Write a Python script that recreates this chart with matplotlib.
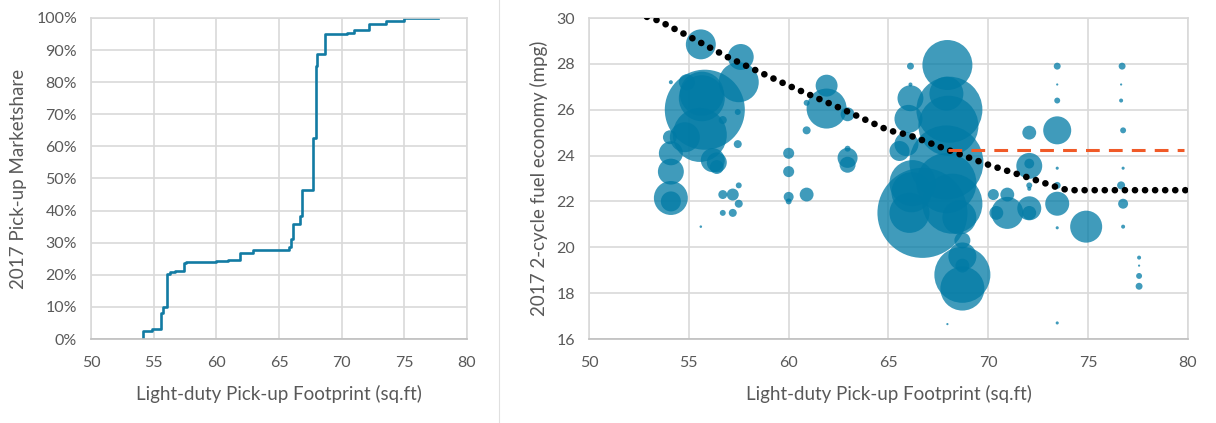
import matplotlib
matplotlib.use("Agg")
import matplotlib.pyplot as plt
from matplotlib.lines import Line2D
import numpy as np

plt.rcParams['font.family'] = ['Lato', 'DejaVu Sans']

# left panel: cumulative pick-up marketshare by footprint
share_x = [54.15, 54.15, 54.85, 55.58, 55.76, 56.08, 56.3, 56.67, 57.4, 57.54,
           59.97, 60.9, 61.88, 62.94, 65.8, 65.95, 66.12, 66.7, 66.8, 67.7,
           67.95, 68.03, 68.7, 70.4, 71.0, 72.15, 73.5, 75.0, 77.66]
share_y = [0, 2.5, 3.1, 8.1, 9.9, 20.2, 20.8, 21.2, 23.6, 24.1,
           24.3, 24.6, 26.7, 27.7, 28.8, 31.0, 35.8, 38.2, 46.5, 62.6,
           84.9, 88.9, 95.0, 95.4, 96.3, 98.0, 99.2, 100, 100]

# right panel: footprint vs 2-cycle fuel economy, bubble = sales (k units)
fp = [54.1, 54.1, 54.1, 54.1, 54.05, 54.1,
      55.8, 55.6, 55.65, 55.55, 54.8, 56.4, 56.4, 54.9, 56.7, 57.45, 57.45,
      57.6, 57.5, 55.65, 56.2,
      56.7, 57.2, 57.5, 57.5, 56.7, 57.2, 55.6,
      60.0, 60.0, 60.0, 60.0, 60.9, 60.9, 61.9, 61.9, 60.9, 62.95, 62.95,
      62.95, 62.95,
      66.1, 66.1, 66.1, 66.0, 67.95, 68.05, 67.9, 65.9, 67.9, 66.7, 66.2,
      66.05, 67.9, 68.2, 68.55, 68.7, 68.7, 68.7, 68.7, 68.7, 67.95, 66.15,
      65.55, 68.0,
      73.45, 73.45, 73.45, 73.45, 72.05, 72.05, 72.05, 72.05, 72.05, 72.05,
      72.05, 70.95, 70.95, 70.25, 70.4, 73.45, 73.45, 73.45, 73.45, 73.45,
      74.9, 76.7, 76.65, 76.65, 76.75, 76.75, 76.65, 76.75, 76.75, 77.55,
      77.55, 77.55, 77.55]
mpg = [22.15, 22.0, 23.3, 24.1, 24.8, 27.2,
       26.0, 28.85, 26.5, 24.9, 24.8, 23.7, 23.5, 27.2, 25.55, 25.9, 24.5,
       28.3, 27.2, 26.7, 23.8,
       22.3, 22.3, 22.7, 21.9, 21.5, 21.5, 20.9,
       24.1, 23.3, 22.2, 22.0, 22.3, 25.1, 26.05, 27.05, 26.3, 25.8, 23.9,
       23.6, 24.3,
       27.9, 27.1, 26.5, 25.6, 27.95, 26.0, 26.7, 24.5, 23.7, 21.5, 22.8,
       21.5, 22.8, 21.9, 21.3, 20.3, 19.6, 19.2, 18.8, 18.2, 16.65, 22.4,
       24.2, 25.3,
       27.9, 27.1, 26.4, 25.1, 25.0, 23.55, 23.65, 22.7, 22.55, 21.7,
       21.5, 21.5, 22.3, 22.3, 21.5, 23.45, 22.7, 21.9, 20.85, 16.7,
       20.9, 27.9, 27.1, 26.4, 25.1, 23.45, 22.7, 21.9, 20.9, 19.55,
       19.2, 18.75, 18.3]
sales = [72, 25, 42, 36, 12, 1,
         400, 56, 132, 182, 56, 25, 12, 16, 4, 2.2, 4,
         42, 100, 121, 36,
         5, 9, 2.2, 4, 2.2, 4, 0.4,
         7.6, 7.6, 6.2, 2.2, 12, 4, 100, 30, 2.2, 12, 25,
         16, 2.2,
         3, 1, 42, 49, 156, 272, 72, 36, 342, 506, 132,
         100, 225, 225, 72, 16, 49, 12, 196, 121, 0.3, 100,
         25, 225,
         3, 0.3, 2.2, 49, 12, 42, 6, 2.2, 1, 36,
         12, 64, 12, 7.6, 12, 0.6, 3, 36, 0.6, 0.6,
         64, 3, 0.3, 1, 2.2, 0.6, 4, 6.2, 1, 1,
         0.3, 2.2, 3]

# CAFE-style target curve and fleet average
target_x = [52.9, 53.5, 55.0, 57.0, 60.0, 62.5, 65.0, 66.0, 68.0, 70.0, 72.0, 73.5, 74.0, 80.0]
target_y = [30.05, 29.88, 29.2, 28.27, 27.05, 26.1, 25.1, 24.9, 24.24, 23.6, 23.04, 22.6, 22.49, 22.49]
avg_x = [68.0, 79.8]
avg_y = [24.25, 24.25]

grey = '#595959'
grid_c = '#d9d9d9'
blue = '#007AA5'

fig = plt.figure(figsize=(12.16, 4.23), dpi=100)
ax1 = fig.add_axes([91 / 1216, 1 - 339 / 423, 376 / 1216, 321 / 423])
ax2 = fig.add_axes([589 / 1216, 1 - 339 / 423, 599 / 1216, 321 / 423])

for ax in (ax1, ax2):
    ax.grid(True, color=grid_c, linewidth=1.2)
    ax.set_axisbelow(True)
    for s in ax.spines.values():
        s.set_color(grid_c)
        s.set_linewidth(1.2)
    ax.spines['bottom'].set_color('#bfbfbf')
    ax.tick_params(length=0, pad=10, labelsize=11.5, labelcolor=grey)
    ax.tick_params(axis='x', pad=12)
    ax.set_xlim(50, 80)
    ax.set_xticks(np.arange(50, 81, 5))
    ax.set_xlabel("Light-duty Pick-up Footprint (sq.ft)", fontsize=13.5, color=grey, labelpad=11)

# left chart
ax1.step(share_x, share_y, where='post', color='#127BA3', linewidth=1.9)
ax1.set_ylim(0, 100)
ax1.set_yticks(np.arange(0, 101, 10))
ax1.set_yticklabels([f"{v}%" for v in range(0, 101, 10)])
ax1.set_ylabel("2017 Pick-up Marketshare", fontsize=13.5, color=grey, labelpad=7)

# right chart
ax2.scatter(fp, mpg, s=np.array(sales) * 8.3, color=blue, alpha=0.75,
            edgecolors='none', zorder=2)
ax2.plot(target_x, target_y, color='black', linewidth=4.8,
         linestyle=(0, (0.01, 1.5)), dash_capstyle='round', zorder=3)
ax2.plot(avg_x, avg_y, color='#F05A28', linewidth=2.2,
         linestyle=(0, (4.5, 3.0)), zorder=3)
ax2.set_ylim(16, 30)
ax2.set_yticks(np.arange(16, 31, 2))
ax2.set_ylabel("2017 2-cycle fuel economy (mpg)", fontsize=13.5, color=grey, labelpad=6)

fig.add_artist(Line2D([499 / 1216, 499 / 1216], [0, 1], color='#e0e0e0', linewidth=0.8))

fig.savefig("out.png", dpi=100)
